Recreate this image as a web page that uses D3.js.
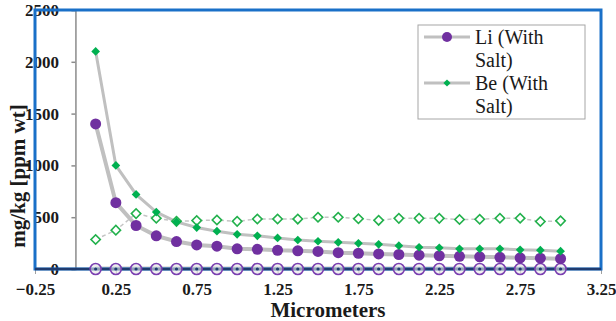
<!DOCTYPE html>
<html><head><meta charset="utf-8">
<script src="https://cdn.jsdelivr.net/npm/d3@7"></script>
<style>body{margin:0;background:#fff}svg{display:block}</style>
</head><body>
<svg id="c" width="616" height="321"></svg>
<script>
const xVals = [0.125,0.25,0.375,0.5,0.625,0.75,0.875,1.0,1.125,1.25,1.375,1.5,1.625,1.75,1.875,2.0,2.125,2.25,2.375,2.5,2.625,2.75,2.875,3.0];
const liSalt = [1400,640,420,320,265,232,220,195,190,180,175,170,158,152,145,140,133,128,122,118,113,108,104,100];
const beSalt = [2100,1000,720,550,455,400,365,335,320,300,280,268,258,248,238,225,210,205,195,195,195,185,182,172];
const beNoSalt = [285,375,535,490,460,467,473,460,483,483,482,500,500,485,470,489,489,489,478,480,490,490,458,465];
const liNoSalt = [5,5,5,5,5,5,5,5,5,5,5,5,5,5,5,5,5,5,5,5,5,5,5,5];
const otherNoSalt = [0,0,0,0,0,0,0,0,0,0,0,0,0,0,0,0,0,0,0,0,0,0,0,0];
const xTicks = [-0.25,0.25,0.75,1.25,1.75,2.25,2.75,3.25];
const yTicks = [0,500,1000,1500,2000,2500];
const legendLabels = [["Li (With","Salt)"],["Be (With","Salt)"]];

const svg = d3.select("#c");
const x = d3.scaleLinear().domain([-0.25,3.25]).range([35,601]);
const y = d3.scaleLinear().domain([0,2500]).range([269,10]);
const serif = "Liberation Serif";

// y axis gray line at x=0
const yAxis = d3.axisLeft(y).tickValues(yTicks).tickSize(4).tickFormat("");
const ya = svg.append("g").attr("transform",`translate(${x(0)},0)`).call(yAxis);
ya.selectAll("path,line").attr("stroke","#8c8c8c").attr("stroke-width",1.5);

// y tick labels at left
svg.append("g").selectAll("text").data(yTicks).join("text")
  .attr("x",59).attr("y",d=>y(d)).attr("dy","0.35em").attr("text-anchor","end")
  .attr("font-family",serif).attr("font-weight","bold").attr("font-size",17).attr("fill","#1a1a1a")
  .text(d=>d);

// x axis ticks
const xAxis = d3.axisBottom(x).tickValues(xTicks).tickSize(5).tickFormat(d3.format(".2f"));
const xa = svg.append("g").attr("transform",`translate(0,${y(0)})`).call(xAxis);
xa.select(".domain").remove();
xa.selectAll("line").attr("stroke","#a0a0a0");
xa.selectAll("text").attr("font-family",serif).attr("font-weight","bold").attr("font-size",17)
  .attr("fill","#1a1a1a").attr("dy","1.05em");

const line = d3.line().x((d,i)=>x(xVals[i])).y(d=>y(d));

// series lines
svg.append("path").datum(liNoSalt).attr("d",line).attr("fill","none").attr("stroke","#c8c8c8").attr("stroke-width",4);
svg.append("path").datum(beNoSalt).attr("d",line).attr("fill","none").attr("stroke","#c4c4c4").attr("stroke-width",1.5).attr("stroke-dasharray","4,3");
svg.append("path").datum(liSalt).attr("d",line).attr("fill","none").attr("stroke","#c0c0c0").attr("stroke-width",4);
svg.append("path").datum(beSalt).attr("d",line).attr("fill","none").attr("stroke","#c0c0c0").attr("stroke-width",3);

// frame
svg.append("rect").attr("x",x(-0.25)).attr("y",y(2500)).attr("width",x(3.25)-x(-0.25)).attr("height",y(0)-y(2500))
  .attr("fill","none").attr("stroke","#1a70c8").attr("stroke-width",3);
// x axis line
svg.append("line").attr("x1",x(-0.25)).attr("x2",x(3.25)).attr("y1",y(0)).attr("y2",y(0))
  .attr("stroke","#1f3c70").attr("stroke-width",2.5);
svg.append("path").datum(otherNoSalt).attr("d",line).attr("fill","none").attr("stroke","#1f3c70").attr("stroke-width",2).attr("stroke-dasharray","4,4");

// markers
const sq = d3.symbol().type(d3.symbolSquare);
svg.append("g").selectAll("path").data(beNoSalt).join("path")
  .attr("d",sq.size(44)()).attr("transform",(d,i)=>`translate(${x(xVals[i])},${y(d)}) rotate(45)`)
  .attr("fill","#fff").attr("stroke","#22b14c").attr("stroke-width",1.6);
svg.append("g").selectAll("circle").data(liNoSalt).join("circle")
  .attr("cx",(d,i)=>x(xVals[i])).attr("cy",y(0)).attr("r",5.5)
  .attr("fill","#e6e6e6").attr("fill-opacity",0.6).attr("stroke","#7a3fb0").attr("stroke-width",1.6);
svg.append("g").selectAll("circle").data(otherNoSalt).join("circle")
  .attr("cx",(d,i)=>x(xVals[i])).attr("cy",d=>y(d)).attr("r",1.6).attr("fill","#1f3c70");
svg.append("g").selectAll("circle").data(liSalt).join("circle")
  .attr("cx",(d,i)=>x(xVals[i])).attr("cy",d=>y(d)).attr("r",5.5).attr("fill","#7030a0");
svg.append("g").selectAll("path").data(beSalt).join("path")
  .attr("d",sq.size(38)()).attr("transform",(d,i)=>`translate(${x(xVals[i])},${y(d)}) rotate(45)`)
  .attr("fill","#00b050");

// axis titles
svg.append("text").attr("x",328).attr("y",317).attr("text-anchor","middle")
  .attr("font-family",serif).attr("font-weight","bold").attr("font-size",21).attr("fill","#1a1a1a").text("Micrometers");
svg.append("text").attr("transform","translate(25,176) rotate(-90)").attr("text-anchor","middle")
  .attr("font-family",serif).attr("font-weight","bold").attr("font-size",21).attr("fill","#1a1a1a").text("mg/kg [ppm wt]");

// legend
const lg = svg.append("g");
lg.append("rect").attr("x",418).attr("y",25).attr("width",167).attr("height",94).attr("fill","#fff").attr("stroke","#a6a6a6").attr("stroke-width",1);
const rows = [37,83];
lg.selectAll(".ll").data(rows).join("line").attr("x1",424).attr("x2",470).attr("y1",d=>d).attr("y2",d=>d)
  .attr("stroke","#c0c0c0").attr("stroke-width",3);
lg.append("circle").attr("cx",447).attr("cy",rows[0]).attr("r",5).attr("fill","#7030a0");
lg.append("path").attr("d",sq.size(26)()).attr("transform",`translate(447,${rows[1]}) rotate(45)`).attr("fill","#00b050");
legendLabels.forEach((lab,i)=>{
  lab.forEach((t,j)=>{
    lg.append("text").attr("x",475).attr("y",rows[i]+j*23).attr("dy","0.35em")
      .attr("font-family",serif).attr("font-size",20).attr("fill","#1a1a1a").text(t);
  });
});
</script>
</body></html>
